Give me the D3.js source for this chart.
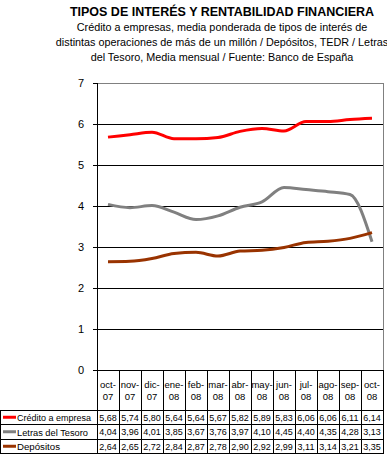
<!DOCTYPE html>
<html>
<head>
<meta charset="utf-8">
<script src="https://cdn.jsdelivr.net/npm/d3@7"></script>
<style>
  body { margin: 0; background: #fff; }
  svg { font-family: "Liberation Sans", Arial, sans-serif; }
</style>
</head>
<body>
<svg id="chart" width="387" height="458"></svg>
<script>
// data
const months = ["oct-07","nov-07","dic-07","ene-08","feb-08","mar-08","abr-08","may-08","jun-08","jul-08","ago-08","sep-08","oct-08"];
const credito = [5.68,5.74,5.80,5.64,5.64,5.67,5.82,5.89,5.83,6.06,6.06,6.11,6.14];
const letras = [4.04,3.96,4.01,3.85,3.67,3.76,3.97,4.10,4.45,4.40,4.35,4.28,3.13];
const depositos = [2.64,2.65,2.72,2.84,2.87,2.78,2.90,2.92,2.99,3.11,3.14,3.21,3.35];
const yTicks = [0,1,2,3,4,5,6,7];

const series = [
  { name: "Crédito a empresa", values: credito, color: "#ff0000", labelW: 74 },
  { name: "Letras del Tesoro", values: letras, color: "#808080", labelW: 71 },
  { name: "Depósitos", values: depositos, color: "#993300", labelW: 43 }
];

const svg = d3.select("#chart");
const plotLeft = 97, plotRight = 383, plotTop = 83, plotBottom = 370;

// titles
svg.append("text")
  .attr("x", 222).attr("y", 16)
  .attr("text-anchor", "middle")
  .style("font-size", "12.5px").style("font-weight", "bold")
  .text("TIPOS DE INTERÉS Y RENTABILIDAD FINANCIERA");

const subLines = [
  "Crédito a empresas, media ponderada de tipos de interés de",
  "distintas operaciones de más de un millón / Depósitos, TEDR / Letras",
  "del Tesoro, Media mensual  / Fuente: Banco de España"
];
svg.append("g").selectAll("text")
  .data(subLines)
  .join("text")
  .attr("x", 222)
  .attr("y", (d, i) => 31 + i * 15)
  .attr("text-anchor", "middle")
  .style("font-size", "10.8px")
  .text(d => d);

let x = d3.scaleBand()
  .domain(months)
  .range([plotLeft, plotRight]);

let y = d3.scaleLinear()
  .domain([0, 7])
  .range([plotBottom, plotTop]);

// gridlines
svg.append("g")
  .selectAll("line")
  .data(yTicks.filter(d => d > 0))
  .join("line")
  .attr("x1", plotLeft).attr("x2", plotRight)
  .attr("y1", d => Math.round(y(d)) + 0.5).attr("y2", d => Math.round(y(d)) + 0.5)
  .style("stroke", d => d == 7 ? "#808080" : "#000")
  .style("stroke-width", "1px");

// right border
svg.append("line")
  .attr("x1", plotRight + 0.5).attr("x2", plotRight + 0.5)
  .attr("y1", plotTop).attr("y2", plotBottom)
  .style("stroke", "#808080");

// y axis
let yAxis = svg.append("g")
  .attr("transform", `translate(${plotLeft},0)`)
  .call(d3.axisLeft(y).tickValues(yTicks).tickSize(4).tickPadding(9).tickFormat(d3.format("d")));
yAxis.attr("shape-rendering", "crispEdges");
yAxis.selectAll("text").style("font-size", "11px").style("font-family", "Liberation Sans, Arial, sans-serif");

// lines
let line = d3.line()
  .x((d, i) => x(months[i]) + x.bandwidth() / 2)
  .y(d => y(d))
  .curve(d3.curveMonotoneX);

svg.append("g")
  .selectAll("path")
  .data(series)
  .join("path")
  .attr("d", d => line(d.values))
  .style("fill", "none")
  .style("stroke", d => d.color)
  .style("stroke-width", "3px");

// data table
const headerBottom = 410, rowH = 14.5;
const tableBottom = headerBottom + rowH * series.length;
let table = svg.append("g").attr("shape-rendering", "crispEdges");

// x axis line
table.append("line")
  .attr("x1", plotLeft).attr("x2", plotRight)
  .attr("y1", plotBottom).attr("y2", plotBottom)
  .style("stroke", "#000");

// vertical separators
table.selectAll(".vsep")
  .data(months.concat(["end"]))
  .join("line")
  .attr("x1", (d, i) => i < months.length ? x(d) : plotRight)
  .attr("x2", (d, i) => i < months.length ? x(d) : plotRight)
  .attr("y1", plotBottom).attr("y2", tableBottom)
  .style("stroke", "#000");

// horizontal row lines
table.selectAll(".hsep")
  .data(d3.range(series.length + 1))
  .join("line")
  .attr("x1", 0).attr("x2", plotRight)
  .attr("y1", i => headerBottom + i * rowH)
  .attr("y2", i => headerBottom + i * rowH)
  .style("stroke", "#000");

table.append("line")
  .attr("x1", 0.5).attr("x2", 0.5)
  .attr("y1", headerBottom).attr("y2", tableBottom)
  .style("stroke", "#000");

// header labels
months.forEach(m => {
  const parts = m.split("-");
  svg.append("text")
    .attr("x", x(m) + x.bandwidth() / 2)
    .attr("y", 388)
    .attr("text-anchor", "middle")
    .style("font-size", "9.5px")
    .text(parts[0] + "-");
  svg.append("text")
    .attr("x", x(m) + x.bandwidth() / 2)
    .attr("y", 400)
    .attr("text-anchor", "middle")
    .style("font-size", "9.5px")
    .text(parts[1]);
});

// rows
series.forEach((s, r) => {
  const cy = headerBottom + r * rowH + rowH / 2;
  svg.append("line")
    .attr("x1", 3).attr("x2", 16)
    .attr("y1", cy).attr("y2", cy)
    .style("stroke", s.color)
    .style("stroke-width", "3px");
  svg.append("text")
    .attr("x", 17).attr("y", cy + 4)
    .style("font-size", "9.6px")
    .attr("textLength", s.labelW)
    .attr("lengthAdjust", "spacingAndGlyphs")
    .text(s.name);
  svg.append("g")
    .selectAll("text")
    .data(s.values)
    .join("text")
    .attr("x", (d, i) => x(months[i]) + x.bandwidth() / 2)
    .attr("y", cy + 3.5)
    .attr("text-anchor", "middle")
    .style("font-size", "9px")
    .text(d => d3.format(".2f")(d).replace(".", ","));
});
</script>
</body>
</html>
